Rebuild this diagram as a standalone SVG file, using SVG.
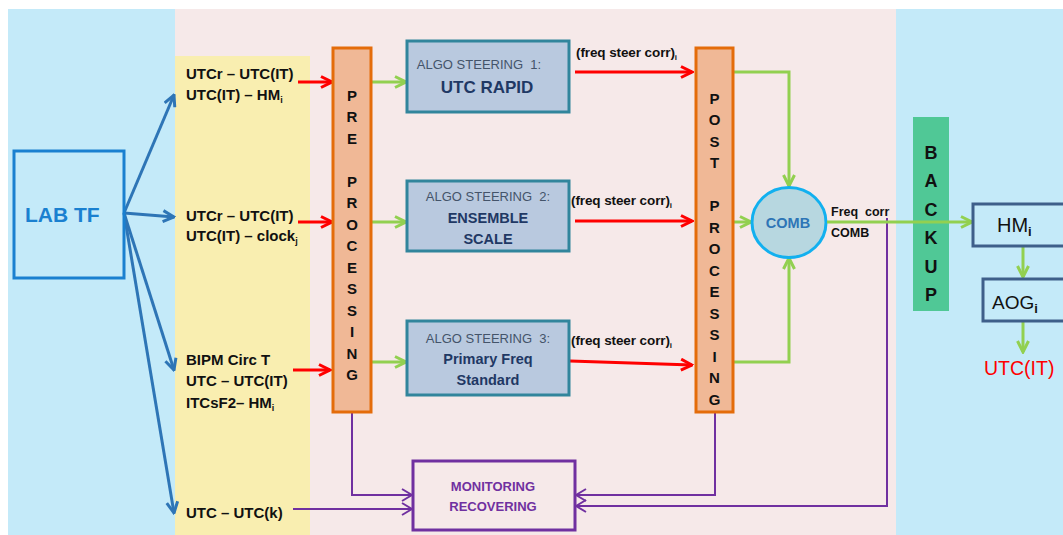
<svg xmlns="http://www.w3.org/2000/svg" width="1063" height="535" viewBox="0 0 1063 535">
<style>
text{font-family:"Liberation Sans",Arial,sans-serif;}
.b{font-weight:bold;}
.in{font-size:15px;font-weight:bold;fill:#111;}
.col{font-size:15px;font-weight:bold;fill:#111;text-anchor:middle;}
.bk{font-size:18px;font-weight:bold;fill:#111;text-anchor:middle;}
.alg{font-size:13px;fill:#44546a;text-anchor:middle;}
.algb{font-weight:bold;fill:#1f3864;text-anchor:middle;}
.fsc{font-size:13.5px;font-weight:bold;fill:#111;letter-spacing:-0.1px;}
.proc{fill:#f0b896;stroke:#e46c0a;stroke-width:3;}
.algo{fill:#b9c9df;stroke:#31859c;stroke-width:3;}
.out{fill:#c4eaf9;stroke:#3e5f8a;stroke-width:3;}
.blue{stroke:#2e75b6;stroke-width:3;fill:none;marker-end:url(#ab);}
.red{stroke:#ff0000;stroke-width:3;fill:none;marker-end:url(#ar);}
.grn{stroke:#92d050;stroke-width:3;fill:none;}
.grna{stroke:#92d050;stroke-width:3;fill:none;marker-end:url(#ag);}
.pur{stroke:#7030a0;stroke-width:2;fill:none;}
.pura{stroke:#7030a0;stroke-width:2;fill:none;marker-end:url(#ap);}
</style>
<defs>
<marker id="ab" viewBox="0 0 14 14" markerWidth="14" markerHeight="14" refX="12.5" refY="7" orient="auto" markerUnits="userSpaceOnUse"><path d="M1.5,1.5 L12.5,7 L1.5,12.5" fill="none" stroke="#2e75b6" stroke-width="3"/></marker>
<marker id="ar" viewBox="0 0 14 14" markerWidth="14" markerHeight="14" refX="12.5" refY="7" orient="auto" markerUnits="userSpaceOnUse"><path d="M1.5,1.5 L12.5,7 L1.5,12.5" fill="none" stroke="#ff0000" stroke-width="3"/></marker>
<marker id="ag" viewBox="0 0 14 14" markerWidth="14" markerHeight="14" refX="12.5" refY="7" orient="auto" markerUnits="userSpaceOnUse"><path d="M1.5,1.5 L12.5,7 L1.5,12.5" fill="none" stroke="#92d050" stroke-width="3"/></marker>
<marker id="ap" viewBox="0 0 12 14" markerWidth="12" markerHeight="14" refX="11" refY="7" orient="auto" markerUnits="userSpaceOnUse"><path d="M1,1 L11,7 L1,13" fill="none" stroke="#7030a0" stroke-width="2"/></marker>
</defs>

<g id="background">
<rect x="0" y="0" width="1063" height="535" fill="#ffffff"/>
<rect x="8" y="9" width="1055" height="526" fill="#c4eaf9"/>
<rect x="175" y="9" width="721" height="526" fill="#f6e9e9"/>
<rect x="175" y="56" width="135" height="479" fill="#f9eeb0"/>
</g>

<g id="inputs">
<text class="in" x="186" y="79">UTCr – UTC(IT)</text>
<text class="in" x="186" y="100">UTC(IT) – HM<tspan font-size="9" dy="3">i</tspan></text>
<text class="in" x="186" y="221">UTCr – UTC(IT)</text>
<text class="in" x="186" y="241">UTC(IT) – clock<tspan font-size="9" dy="3">j</tspan></text>
<text class="in" x="186" y="365">BIPM Circ T</text>
<text class="in" x="186" y="386">UTC – UTC(IT)</text>
<text class="in" x="186" y="408">ITCsF2– HM<tspan font-size="9" dy="3">i</tspan></text>
<text class="in" x="186" y="518">UTC – UTC(k)</text>
</g>

<g id="connectors">
<path class="blue" d="M124,213 L174,95"/>
<path class="blue" d="M124,213 L174,217"/>
<path class="blue" d="M124,213 L174,370"/>
<path class="blue" d="M124,213 L174,513"/>
<path class="red" d="M298,82 L332,82"/>
<path class="red" d="M298,222 L332,222"/>
<path class="red" d="M293,370 L330,370"/>
<path class="grna" d="M371,82 L406,82"/>
<path class="grna" d="M371,222 L406,222"/>
<path class="grna" d="M371,362 L406,362"/>
<path class="red" d="M575,72 L692,72"/>
<path class="red" d="M575,221 L692,221"/>
<path class="red" d="M570,361 L692,365"/>
<path class="grna" d="M733,72 L789,72 L789,186"/>
<path class="grna" d="M733,222 L751,222"/>
<path class="grna" d="M733,362 L789,362 L789,258"/>
<path class="pura" d="M352,412 L352,495 L412,495"/>
<path class="pura" d="M293,509 L412,509"/>
<path class="pura" d="M715,412 L715,495 L576,495"/>
<path class="pura" d="M887,218 L887,506 L576,506"/>
<path class="grna" d="M1023,246 L1023,277"/>
<path class="grna" d="M1023,321 L1023,352"/>
</g>

<g id="labtf">
<rect x="14" y="151" width="110" height="127" fill="none" stroke="#1a80d0" stroke-width="3"/>
<text x="25" y="222" font-size="21" class="b" fill="#1a80d0">LAB TF</text>
</g>

<g id="preprocessing">
<rect class="proc" x="333" y="48" width="38" height="364"/>
<text class="col" x="352" y="101">P</text>
<text class="col" x="352" y="122">R</text>
<text class="col" x="352" y="144">E</text>
<text class="col" x="352" y="187">P</text>
<text class="col" x="352" y="208">R</text>
<text class="col" x="352" y="230">O</text>
<text class="col" x="352" y="251">C</text>
<text class="col" x="352" y="273">E</text>
<text class="col" x="352" y="294">S</text>
<text class="col" x="352" y="316">S</text>
<text class="col" x="352" y="337">I</text>
<text class="col" x="352" y="359">N</text>
<text class="col" x="352" y="380">G</text>
</g>

<g id="algo1">
<rect class="algo" x="407" y="41" width="162" height="71"/>
<text class="alg" x="479" y="69" xml:space="preserve">ALGO STEERING  1:</text>
<text class="algb" x="487" y="93" font-size="17">UTC RAPID</text>
<text class="fsc" x="576" y="57">(freq steer corr)<tspan font-size="8" dy="3">i</tspan></text>
</g>

<g id="algo2">
<rect class="algo" x="407" y="181" width="162" height="70"/>
<text class="alg" x="488" y="201" xml:space="preserve">ALGO STEERING  2:</text>
<text class="algb" x="488" y="223" font-size="14.5">ENSEMBLE</text>
<text class="algb" x="488" y="244" font-size="14.5">SCALE</text>
<text class="fsc" x="571" y="205">(freq steer corr)<tspan font-size="8" dy="3">i</tspan></text>
</g>

<g id="algo3">
<rect class="algo" x="407" y="321" width="162" height="74"/>
<text class="alg" x="488" y="343" xml:space="preserve">ALGO STEERING  3:</text>
<text class="algb" x="488" y="364" font-size="14.5">Primary Freq</text>
<text class="algb" x="488" y="385" font-size="14.5">Standard</text>
<text class="fsc" x="571" y="345">(freq steer corr)<tspan font-size="8" dy="3">i</tspan></text>
</g>

<g id="postprocessing">
<rect class="proc" x="696" y="48" width="37" height="364"/>
<text class="col" x="714.5" y="104">P</text>
<text class="col" x="714.5" y="125">O</text>
<text class="col" x="714.5" y="147">S</text>
<text class="col" x="714.5" y="168">T</text>
<text class="col" x="714.5" y="211">P</text>
<text class="col" x="714.5" y="233">R</text>
<text class="col" x="714.5" y="254">O</text>
<text class="col" x="714.5" y="276">C</text>
<text class="col" x="714.5" y="297">E</text>
<text class="col" x="714.5" y="319">S</text>
<text class="col" x="714.5" y="340">S</text>
<text class="col" x="714.5" y="362">I</text>
<text class="col" x="714.5" y="383">N</text>
<text class="col" x="714.5" y="405">G</text>
</g>

<g id="backup">
<rect x="913" y="117" width="36" height="194" fill="#50c896"/>
<text class="bk" x="931" y="159">B</text>
<text class="bk" x="931" y="187">A</text>
<text class="bk" x="931" y="216">C</text>
<text class="bk" x="931" y="244">K</text>
<text class="bk" x="931" y="273">U</text>
<text class="bk" x="931" y="301">P</text>
</g>

<g id="comb">
<ellipse cx="789" cy="222.5" rx="37" ry="35" fill="#b7d7e0" stroke="#12b0ef" stroke-width="3"/>
<text x="788" y="228" font-size="14.5" class="b" fill="#2e75b6" text-anchor="middle">COMB</text>
<text x="831" y="216" font-size="12.5" class="b" fill="#111" xml:space="preserve">Freq  corr</text>
<text x="831" y="237" font-size="12.5" class="b" fill="#111">COMB</text>
</g>

<g id="comb-out">
<path class="grna" d="M827,222 L972,222"/>
</g>

<g id="hm">
<rect class="out" x="973" y="204" width="100" height="42"/>
<text x="997" y="232" font-size="20" fill="#111">HM<tspan font-size="13" font-weight="bold" dy="4">i</tspan></text>
</g>

<g id="aog">
<rect class="out" x="983" y="279" width="90" height="42"/>
<text x="992" y="309" font-size="19" fill="#111">AOG<tspan font-size="13" font-weight="bold" dy="4">i</tspan></text>
</g>

<g id="utcit">
<text x="984" y="375" font-size="19.5" fill="#ff0000">UTC(IT)</text>
</g>

<g id="monitoring">
<rect x="413" y="461" width="162" height="69" fill="none" stroke="#7030a0" stroke-width="3"/>
<text x="493" y="491" font-size="13" class="b" fill="#7030a0" text-anchor="middle">MONITORING</text>
<text x="493" y="511" font-size="13" class="b" fill="#7030a0" text-anchor="middle">RECOVERING</text>
</g>
</svg>
